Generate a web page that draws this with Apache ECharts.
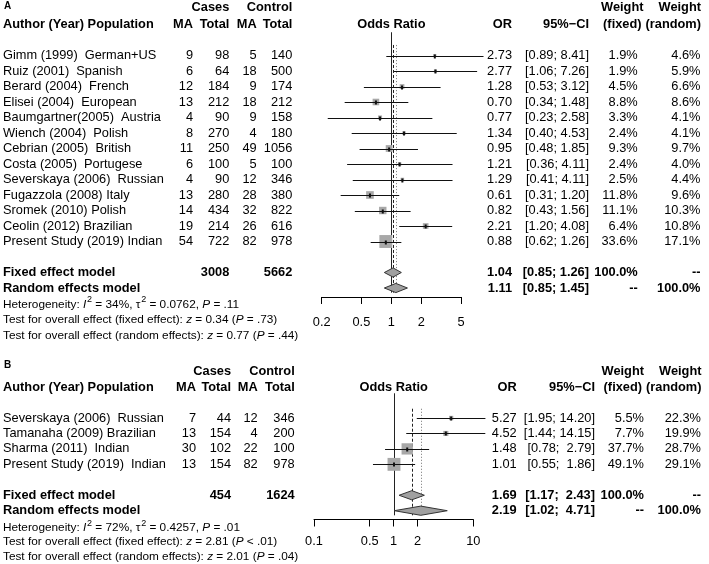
<!DOCTYPE html>
<html><head><meta charset="utf-8">
<script src="https://cdn.jsdelivr.net/npm/echarts@6/dist/echarts.min.js"></script>
<style>html,body{margin:0;padding:0;background:#fff}#c{width:709px;height:564px}</style>
</head><body><div id="c"></div>
<script>
// ---------------- DATA: panel A ----------------
const studiesA = ['Gimm (1999)  German+US', 'Ruiz (2001)  Spanish', 'Berard (2004)  French', 'Elisei (2004)  European',
  'Baumgartner(2005)  Austria', 'Wiench (2004)  Polish', 'Cebrian (2005)  British', 'Costa (2005)  Portugese',
  'Severskaya (2006)  Russian', 'Fugazzola (2008) Italy', 'Sromek (2010) Polish', 'Ceolin (2012) Brazilian',
  'Present Study (2019) Indian'];
const casesMA_A = [9, 6, 12, 13, 4, 8, 11, 6, 4, 13, 14, 19, 54];
const casesTotal_A = [98, 64, 184, 212, 90, 270, 250, 100, 90, 280, 434, 214, 722];
const ctrlMA_A = [5, 18, 9, 18, 9, 4, 49, 5, 12, 28, 32, 26, 82];
const ctrlTotal_A = [140, 500, 174, 212, 158, 180, 1056, 100, 346, 380, 822, 616, 978];
const orA = [2.73, 2.77, 1.28, 0.70, 0.77, 1.34, 0.95, 1.21, 1.29, 0.61, 0.82, 2.21, 0.88];
const loA = [0.89, 1.06, 0.53, 0.34, 0.23, 0.40, 0.48, 0.36, 0.41, 0.31, 0.43, 1.20, 0.62];
const hiA = [8.41, 7.26, 3.12, 1.48, 2.58, 4.53, 1.85, 4.11, 4.11, 1.20, 1.56, 4.08, 1.26];
const wFixedA = [1.9, 1.9, 4.5, 8.8, 3.3, 2.4, 9.3, 2.4, 2.5, 11.8, 11.1, 6.4, 33.6];
const wRandomA = [4.6, 5.9, 6.6, 8.6, 4.1, 4.1, 9.7, 4.0, 4.4, 9.6, 10.3, 10.8, 17.1];
const fixedA = [1.04, 0.85, 1.26];
const randomA = [1.11, 0.85, 1.45];
const totalsA = [3008, 5662];
const ticksA = [0.2, 0.5, 1, 2, 5];
const statsA = [
  [['Heterogeneity: ', 'n'], ['I', 'i'], ['2', 's'], [' = 34%, ', 'n'], ['τ', 'n'], ['2', 's'], [' = 0.0762, ', 'n'], ['P', 'i'], [' = .11', 'n']],
  [['Test for overall effect (fixed effect): ', 'n'], ['z', 'i'], [' = 0.34 (', 'n'], ['P', 'i'], [' = .73)', 'n']],
  [['Test for overall effect (random effects): ', 'n'], ['z', 'i'], [' = 0.77 (', 'n'], ['P', 'i'], [' = .44)', 'n']]
];
// ---------------- DATA: panel B ----------------
const studiesB = ['Severskaya (2006)  Russian', 'Tamanaha (2009) Brazilian', 'Sharma (2011)  Indian', 'Present Study (2019)  Indian'];
const casesMA_B = [7, 13, 30, 13];
const casesTotal_B = [44, 154, 102, 154];
const ctrlMA_B = [12, 4, 22, 82];
const ctrlTotal_B = [346, 200, 100, 978];
const orB = [5.27, 4.52, 1.48, 1.01];
const loB = [1.95, 1.44, 0.78, 0.55];
const hiB = [14.20, 14.15, 2.79, 1.86];
const wFixedB = [5.5, 7.7, 37.7, 49.1];
const wRandomB = [22.3, 19.9, 28.7, 29.1];
const fixedB = [1.69, 1.17, 2.43];
const randomB = [2.19, 1.02, 4.71];
const totalsB = [454, 1624];
const ticksB = [0.1, 0.5, 1, 2, 10];
const statsB = [
  [['Heterogeneity: ', 'n'], ['I', 'i'], ['2', 's'], [' = 72%, ', 'n'], ['τ', 'n'], ['2', 's'], [' = 0.4257, ', 'n'], ['P', 'i'], [' = .01', 'n']],
  [['Test for overall effect (fixed effect): ', 'n'], ['z', 'i'], [' = 2.81 (', 'n'], ['P', 'i'], [' < .01)', 'n']],
  [['Test for overall effect (random effects): ', 'n'], ['z', 'i'], [' = 2.01 (', 'n'], ['P', 'i'], [' = .04)', 'n']]
];

// ---------------- LAYOUT ----------------
const FONT = '"Liberation Sans", Arial, Helvetica, sans-serif';
const FS = 12.8, FS_SMALL = 11.8;
const mctx = document.createElement('canvas').getContext('2d');
function fontStr(size, bold, italic) { return (italic ? 'italic ' : '') + (bold ? 'bold ' : '') + size + 'px ' + FONT; }
function measure(t, f) { mctx.font = f; return mctx.measureText(t).width; }
function txt(x, y, s, o) {
  o = o || {};
  const al = o.align || 'left';
  return { type: 'text', x: x, y: y, silent: true, z: 10,
    style: { text: String(s), fill: '#000', font: fontStr(o.size || FS, o.bold, o.italic),
      textAlign: al, align: al, textVerticalAlign: 'middle', verticalAlign: 'middle' } };
}
function richLine(x, y, segs, out) {
  let cx = x;
  segs.forEach(([t, k]) => {
    let f, yy = y;
    if (k === 's') { f = fontStr(9, false, false); yy = y - 4.5; cx += 0.8; }
    else f = fontStr(FS_SMALL, false, k === 'i');
    out.push({ type: 'text', x: cx, y: yy, silent: true, z: 10,
      style: { text: t, fill: '#000', font: f, textAlign: 'left', align: 'left', textVerticalAlign: 'middle', verticalAlign: 'middle' } });
    cx += measure(t, f);
  });
}
function fmt2(v) { return v.toFixed(2); }
function ciStr(lo, hi, wide) {
  const h = fmt2(hi);
  return '[' + fmt2(lo) + ';' + (wide && h.length < 5 ? '  ' : ' ') + h + ']';
}

const panels = [
  { label: 'A', labelY: 6.7, h1: 7.3, h2: 24, row0: 55.5, step: 15.5, fixedRow: 14, randomRow: 15,
    statsY: [304.5, 320, 335.5], gx0: 321.7, gx1: 461, ymin: -1.5, ymax: 15.58, maxSide: 12.9,
    solid: [-1.5, 15.3], dash: [-0.68, 15.3], labelMargin: 18.5,
    col: { name: 3, cMA: 193, cTot: 229.3, kMA: 256.7, kTot: 292.3, or: 512, ci: 589, wf: 637.7, wr: 700.5, wfH: 641.5, wrH: 701 },
    studies: studiesA, cMA: casesMA_A, cTot: casesTotal_A, kMA: ctrlMA_A, kTot: ctrlTotal_A,
    or: orA, lo: loA, hi: hiA, wf: wFixedA, wr: wRandomA, fixed: fixedA, random: randomA, totals: totalsA,
    ticks: ticksA, stats: statsA, wide: false },
  { label: 'B', labelY: 365, h1: 371, h2: 387, row0: 418, step: 15.45, fixedRow: 5, randomRow: 6,
    statsY: [528, 542.2, 556.5], gx0: 314, gx1: 473.3, ymin: -1.6, ymax: 6.57, maxSide: 12.9,
    solid: [-1.6, 6.3], dash: [-0.6, 6.3], labelMargin: 15.5,
    col: { name: 3, cMA: 196, cTot: 231, kMA: 257.7, kTot: 294.7, or: 516.7, ci: 595, wf: 644, wr: 701, wfH: 642, wrH: 701.5 },
    studies: studiesB, cMA: casesMA_B, cTot: casesTotal_B, kMA: ctrlMA_B, kTot: ctrlTotal_B,
    or: orB, lo: loB, hi: hiB, wf: wFixedB, wr: wRandomB, fixed: fixedB, random: randomB, totals: totalsB,
    ticks: ticksB, stats: statsB, wide: true }
];

const grids = [], xAxes = [], yAxes = [], series = [], graphics = [];
panels.forEach((P, pi) => {
  const rowY = r => P.row0 + r * P.step;
  const gTop = rowY(P.ymin), gBot = rowY(P.ymax);
  grids.push({ left: P.gx0, top: gTop, width: P.gx1 - P.gx0, height: gBot - gTop, containLabel: false });
  xAxes.push({ type: 'log', logBase: 10, gridIndex: pi, position: 'bottom', min: P.ticks[0], max: P.ticks[P.ticks.length - 1],
    axisLine: { show: true, onZero: false, lineStyle: { color: '#000', width: 1 } },
    axisTick: { show: true, customValues: P.ticks, length: 7, inside: false, lineStyle: { color: '#000', width: 1 } },
    axisLabel: { show: true, customValues: P.ticks, margin: P.labelMargin, color: '#000', fontSize: FS, fontFamily: FONT,
      formatter: v => String(+(+v).toPrecision(3)), showMinLabel: true, showMaxLabel: true, hideOverlap: false },
    splitLine: { show: false }, minorTick: { show: false } });
  yAxes.push({ type: 'value', gridIndex: pi, inverse: true, min: P.ymin, max: P.ymax, show: false });

  // reference lines: [x, rowStart, rowEnd, kind]
  const refData = [[1, P.solid[0], P.solid[1], 0], [P.fixed[0], P.dash[0], P.dash[1], 1], [P.random[0], P.dash[0], P.dash[1], 2]];
  series.push({ type: 'custom', xAxisIndex: pi, yAxisIndex: pi, clip: false, silent: true, z: 1,
    encode: { x: 0, y: [1, 2] }, data: refData,
    renderItem: (params, api) => {
      const a = api.coord([api.value(0), api.value(1)]), b = api.coord([api.value(0), api.value(2)]);
      const k = api.value(3);
      const x = Math.round(a[0]) + 0.5;
      return { type: 'line', shape: { x1: x, y1: a[1], x2: x, y2: b[1] },
        style: { stroke: k === 2 ? '#8a8a8a' : '#222', lineWidth: 1, lineDash: k === 0 ? null : (k === 1 ? [3, 2] : [1.2, 1.8]) } };
    } });

  // studies: [or, lo, hi, row, wFixed]
  const maxW = Math.max.apply(null, P.wf);
  const sData = P.or.map((v, i) => [v, P.lo[i], P.hi[i], i, P.wf[i]]);
  series.push({ type: 'custom', xAxisIndex: pi, yAxisIndex: pi, clip: false, silent: true, z: 3,
    encode: { x: [0, 1, 2], y: 3 }, data: sData,
    renderItem: (params, api) => {
      const p = api.coord([api.value(0), api.value(3)]);
      const pl = api.coord([api.value(1), api.value(3)]);
      const ph = api.coord([api.value(2), api.value(3)]);
      const side = P.maxSide * Math.sqrt(api.value(4) / maxW);
      const y = Math.round(p[1]) + 0.5;
      return { type: 'group', children: [
        { type: 'rect', shape: { x: p[0] - side / 2, y: p[1] - side / 2, width: side, height: side }, style: { fill: '#a8a8a8' } },
        { type: 'line', shape: { x1: pl[0], y1: y, x2: ph[0], y2: y }, style: { stroke: '#111', lineWidth: 1 } },
        { type: 'rect', shape: { x: p[0] - 1, y: y - 2, width: 2, height: 4 }, style: { fill: '#111' } }
      ] };
    } });

  // summary diamonds: [est, lo, hi, row]
  const dData = [[P.fixed[0], P.fixed[1], P.fixed[2], P.fixedRow], [P.random[0], P.random[1], P.random[2], P.randomRow]];
  series.push({ type: 'custom', xAxisIndex: pi, yAxisIndex: pi, clip: false, silent: true, z: 4,
    encode: { x: [0, 1, 2], y: 3 }, data: dData,
    renderItem: (params, api) => {
      const r = api.value(3);
      const p = api.coord([api.value(0), r]), pl = api.coord([api.value(1), r]), ph = api.coord([api.value(2), r]);
      const h = 4.6;
      return { type: 'polygon', shape: { points: [[pl[0], p[1]], [p[0], p[1] - h], [ph[0], p[1]], [p[0], p[1] + h]] },
        style: { fill: '#a0a0a0', stroke: '#333', lineWidth: 1 } };
    } });

  // ------- text -------
  const C = P.col;
  const bf = fontStr(FS, true, false);
  const fixedHeadCenter = C.wfH - measure('(fixed)', bf) / 2;
  graphics.push(txt(4, P.labelY, P.label, { bold: true, size: 10 }));
  graphics.push(txt(C.cTot, P.h1, 'Cases', { bold: true, align: 'right' }));
  graphics.push(txt(C.kTot, P.h1, 'Control', { bold: true, align: 'right' }));
  graphics.push(txt(fixedHeadCenter, P.h1, 'Weight', { bold: true, align: 'center' }));
  graphics.push(txt(C.wrH, P.h1, 'Weight', { bold: true, align: 'right' }));
  graphics.push(txt(C.name, P.h2, 'Author (Year) Population', { bold: true }));
  graphics.push(txt(C.cMA, P.h2, 'MA', { bold: true, align: 'right' }));
  graphics.push(txt(C.cTot, P.h2, 'Total', { bold: true, align: 'right' }));
  graphics.push(txt(C.kMA, P.h2, 'MA', { bold: true, align: 'right' }));
  graphics.push(txt(C.kTot, P.h2, 'Total', { bold: true, align: 'right' }));
  graphics.push(txt((P.gx0 + (P.gx1 - P.gx0) * Math.log(1 / P.ticks[0]) / Math.log(P.ticks[P.ticks.length - 1] / P.ticks[0])), P.h2, 'Odds Ratio', { bold: true, align: 'center' }));
  graphics.push(txt(C.or, P.h2, 'OR', { bold: true, align: 'right' }));
  graphics.push(txt(C.ci, P.h2, '95%−CI', { bold: true, align: 'right' }));
  graphics.push(txt(C.wfH, P.h2, '(fixed)', { bold: true, align: 'right' }));
  graphics.push(txt(C.wrH, P.h2, '(random)', { bold: true, align: 'right' }));
  P.studies.forEach((s, i) => {
    const y = rowY(i);
    graphics.push(txt(C.name, y, s));
    graphics.push(txt(C.cMA, y, P.cMA[i], { align: 'right' }));
    graphics.push(txt(C.cTot, y, P.cTot[i], { align: 'right' }));
    graphics.push(txt(C.kMA, y, P.kMA[i], { align: 'right' }));
    graphics.push(txt(C.kTot, y, P.kTot[i], { align: 'right' }));
    graphics.push(txt(C.or, y, fmt2(P.or[i]), { align: 'right' }));
    graphics.push(txt(C.ci, y, ciStr(P.lo[i], P.hi[i], P.wide), { align: 'right' }));
    graphics.push(txt(C.wf, y, P.wf[i].toFixed(1) + '%', { align: 'right' }));
    graphics.push(txt(C.wr, y, P.wr[i].toFixed(1) + '%', { align: 'right' }));
  });
  const yf = rowY(P.fixedRow), yr = rowY(P.randomRow);
  graphics.push(txt(C.name, yf, 'Fixed effect model', { bold: true }));
  graphics.push(txt(C.cTot, yf, P.totals[0], { bold: true, align: 'right' }));
  graphics.push(txt(C.kTot, yf, P.totals[1], { bold: true, align: 'right' }));
  graphics.push(txt(C.or, yf, fmt2(P.fixed[0]), { bold: true, align: 'right' }));
  graphics.push(txt(C.ci, yf, ciStr(P.fixed[1], P.fixed[2], P.wide), { bold: true, align: 'right' }));
  graphics.push(txt(C.wf, yf, '100.0%', { bold: true, align: 'right' }));
  graphics.push(txt(C.wr, yf, '--', { bold: true, align: 'right' }));
  graphics.push(txt(C.name, yr, 'Random effects model', { bold: true }));
  graphics.push(txt(C.or, yr, fmt2(P.random[0]), { bold: true, align: 'right' }));
  graphics.push(txt(C.ci, yr, ciStr(P.random[1], P.random[2], P.wide), { bold: true, align: 'right' }));
  graphics.push(txt(C.wf, yr, '--', { bold: true, align: 'right' }));
  graphics.push(txt(C.wr, yr, '100.0%', { bold: true, align: 'right' }));
  P.stats.forEach((segs, k) => richLine(3, P.statsY[k], segs, graphics));
});

const chart = echarts.init(document.getElementById('c'), null, { renderer: 'canvas' });
chart.setOption({
  animation: false,
  backgroundColor: '#fff',
  textStyle: { fontFamily: FONT },
  grid: grids, xAxis: xAxes, yAxis: yAxes, series: series,
  graphic: { elements: graphics }
});
</script></body></html>
